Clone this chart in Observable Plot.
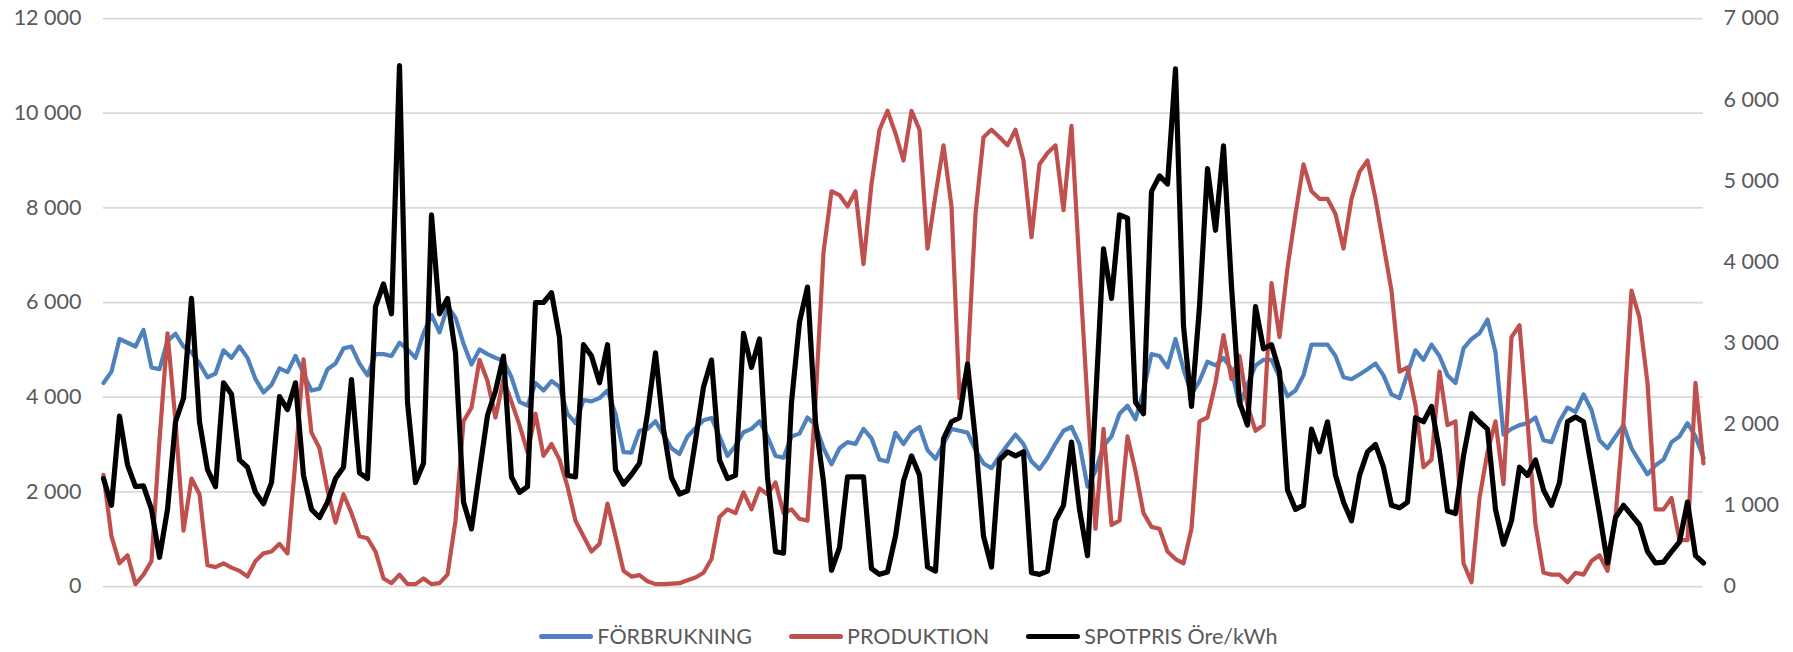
<!DOCTYPE html>
<html><head><meta charset="utf-8">
<script src="https://cdn.jsdelivr.net/npm/d3@7"></script>
<script src="https://cdn.jsdelivr.net/npm/@observablehq/plot@0.6"></script>
<style>
body{margin:0;background:#fff;font-family:Lato, sans-serif;}
#legend{display:flex;justify-content:center;gap:37px;margin-top:22px;padding-left:24px;font-size:21.5px;color:#595959;line-height:28px;}
.item{display:flex;align-items:center;gap:4px}
.sw{width:54px;height:5px;border-radius:3px}
</style></head><body>
<div id="chart"></div>
<div id="legend"></div>
<script>
const forbrukning = [
4300,4540,5230,5150,5070,5420,4630,4590,5190,5340,5070,4950,4710,4420,4500,4990,4830,5070,4830,4380,4100,
4260,4610,4530,4870,4500,4140,4180,4590,4710,5030,5070,4710,4460,4910,4910,4870,5150,5010,4830,5350,
5740,5370,5920,5680,5130,4690,5010,4910,4830,4770,4420,3900,3820,4300,4140,4340,4220,3650,3450,3940,
3910,3980,4140,3650,2840,2830,3290,3330,3490,3210,2920,2800,3170,3350,3510,3560,3170,2760,2970,3260,
3330,3490,3170,2760,2720,3170,3230,3570,3410,2920,2580,2920,3050,3010,3330,3130,2680,2640,3250,3010,
3260,3370,2880,2700,3010,3330,3290,3250,2880,2600,2500,2760,2990,3210,3010,2640,2480,2720,3020,3290,
3370,3010,2110,2440,2970,3170,3650,3820,3530,4140,4910,4870,4630,5230,4590,4060,4340,4750,4670,4830,
4590,3820,4260,4670,4790,4790,4420,4020,4140,4460,5110,5110,5110,4870,4420,4380,4480,4590,4710,4460,
4060,3980,4500,4990,4790,5110,4870,4460,4300,5030,5230,5350,5640,4950,3210,3330,3410,3450,3570,3090,
3050,3490,3780,3690,4060,3730,3090,2920,3170,3410,2920,2640,2370,2560,2680,3050,3170,3450,3170,2720];
const produktion = [
2360,1060,490,660,50,250,540,3090,5350,3490,1180,2280,1950,450,410,490,400,330,210,540,700,
740,900,700,2680,4800,3250,2920,2030,1350,1950,1550,1060,1020,740,170,70,250,50,50,170,
50,70,250,1390,3490,3780,4790,4340,3570,4380,3900,3410,2840,3650,2760,3010,2680,2110,1390,1060,
740,900,1750,1060,330,210,240,110,50,50,60,70,130,190,290,580,1470,1630,1550,1990,
1630,2070,1950,2200,1550,1630,1430,1390,3900,7060,8350,8270,8030,8350,6810,8510,9650,10050,9570,9000,
10050,9650,7140,8270,9320,8030,3980,4630,7870,9490,9650,9490,9320,9650,9000,7380,8920,9160,9320,7950,
9730,6730,3900,1220,3330,1300,1390,3170,2440,1550,1260,1220,740,580,490,1220,3490,3570,4300,5310,
4380,4870,3820,3290,3410,6410,5270,6730,7870,8920,8350,8190,8190,7870,7140,8190,8760,9000,8190,7220,
6250,4540,4630,3820,2520,2680,4540,3410,3490,490,90,1870,2840,3490,2160,5270,5520,3490,1300,290,
250,250,90,290,250,540,660,330,1470,3490,6250,5680,4300,1630,1630,1870,980,980,4300,2600];
const spotpris = [
1330,1000,2100,1500,1230,1240,950,360,950,2030,2320,3550,2030,1440,1230,2510,2370,1560,1470,1160,1020,
1280,2340,2180,2510,1370,950,850,1040,1330,1470,2550,1400,1330,3450,3730,3360,6420,2270,1280,1520,
4580,3360,3550,2880,1040,710,1420,2110,2410,2840,1350,1160,1230,3500,3500,3620,3070,1370,1350,2980,
2840,2510,2980,1440,1260,1380,1520,2130,2880,1940,1340,1140,1180,1800,2460,2790,1560,1330,1370,3120,
2700,3050,1350,430,410,2270,3260,3690,2030,1290,200,480,1350,1350,1350,220,150,180,620,1300,
1610,1370,240,190,1820,2030,2080,2740,1800,620,240,1560,1660,1610,1660,170,150,190,810,1000,
1780,950,380,2270,4160,3550,4580,4540,2270,2130,4870,5060,4960,6380,3210,2220,3450,5150,4390,5430,
3700,2270,1990,3450,2930,2980,2650,1190,950,1000,1940,1660,2030,1370,1040,810,1370,1660,1750,1470,
1000,970,1040,2080,2030,2220,1660,930,900,1610,2130,2030,1940,950,520,810,1470,1370,1560,1190,
1000,1280,2030,2090,2030,1470,900,290,850,1000,880,760,430,290,300,430,550,1040,380,290];
const leftTicks = [0,2000,4000,6000,8000,10000,12000];
const rightTicks = [0,1000,2000,3000,4000,5000,6000,7000];
const seriesNames = ["FÖRBRUKNING","PRODUKTION","SPOTPRIS Öre/kWh"];
const seriesColors = ["#4F81BD","#C0504D","#000000"];

const k = 12000/7000;
const fmt = d3.formatLocale({decimal:",",thousands:"\u00a0",grouping:[3],currency:["",""]}).format(",d");
const rows = forbrukning.map((f,i)=>({i, f, p:produktion[i], s:spotpris[i]*k}));
const chart = Plot.plot({
  width:1793, height:600, marginLeft:103, marginRight:90, marginTop:18, marginBottom:14,
  x:{type:"linear", domain:[0, rows.length-1], axis:null},
  y:{domain:[0,12000], axis:null},
  style:{fontFamily:"Lato, sans-serif", fontSize:"21.5px", color:"#595959", background:"#fff"},
  marks:[
    Plot.ruleY(leftTicks,{stroke:"#d9d9d9", strokeWidth:1.75}),
    Plot.axisY(leftTicks,{anchor:"left", tickSize:0, tickPadding:22, tickFormat:fmt, fill:"#595959", fontSize:21.5}),
    Plot.axisY(rightTicks.map(v=>v*k),{anchor:"right", tickSize:0, tickPadding:20, tickFormat:v=>fmt(Math.round(v/k)), fill:"#595959", fontSize:21.5}),
    Plot.line(rows,{x:"i", y:"f", stroke:seriesColors[0], strokeWidth:4.2}),
    Plot.line(rows,{x:"i", y:"p", stroke:seriesColors[1], strokeWidth:4.2}),
    Plot.line(rows,{x:"i", y:"s", stroke:seriesColors[2], strokeWidth:5.2})
  ]
});
document.getElementById("chart").appendChild(chart);
const lg = document.getElementById("legend");
seriesNames.forEach((n,j)=>{
  const it = document.createElement("div"); it.className="item";
  const sw = document.createElement("div"); sw.className="sw"; sw.style.background=seriesColors[j];
  const t = document.createElement("span"); t.textContent=n;
  it.appendChild(sw); it.appendChild(t); lg.appendChild(it);
});
</script></body></html>
